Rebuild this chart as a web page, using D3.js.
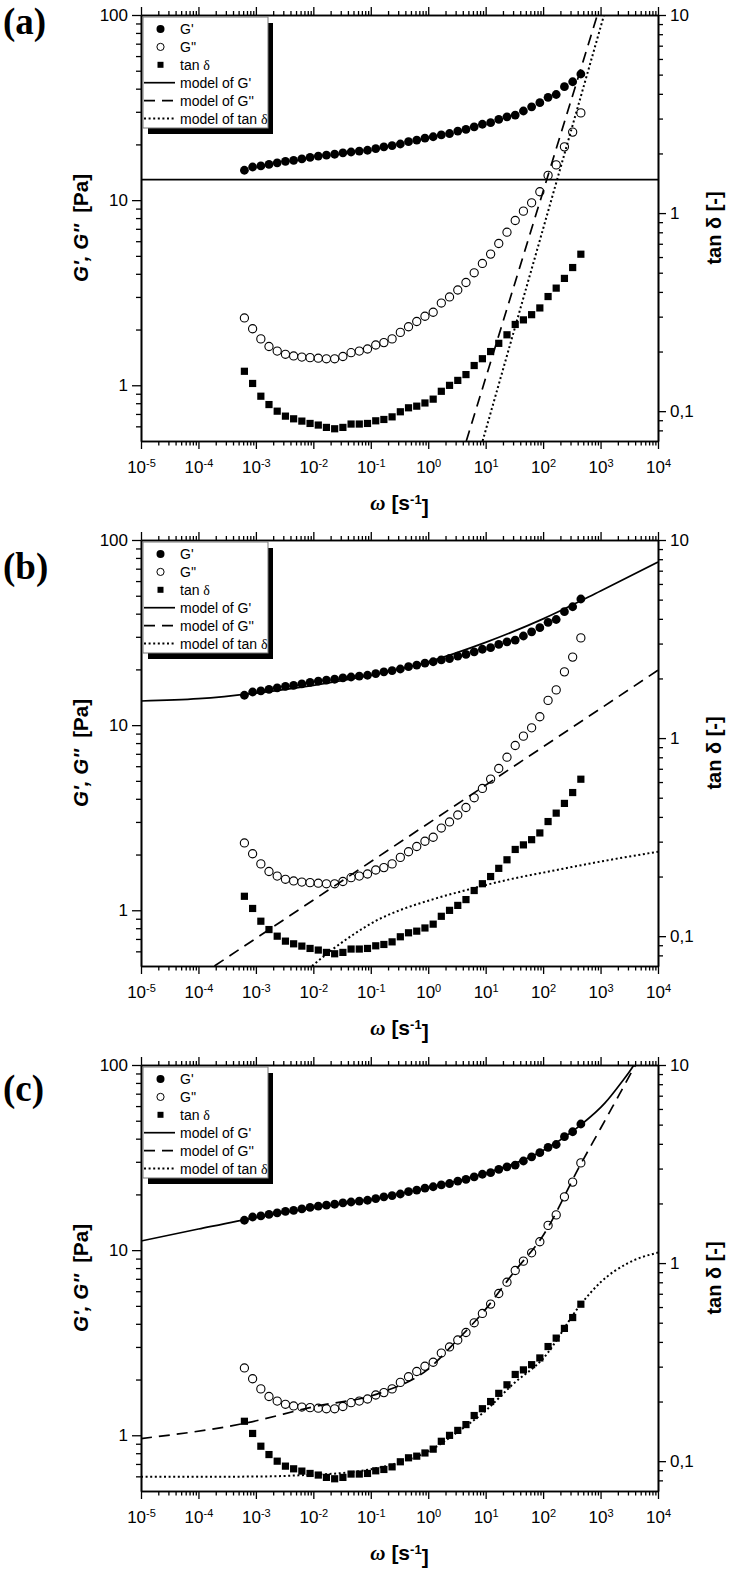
<!DOCTYPE html>
<html lang="en">
<head>
<meta charset="UTF-8">
<title>G', G'' and tan delta with models</title>
<script src="https://d3js.org/d3.v7.min.js"></script>
<style>
    body { margin: 0; background: #fff; }
    svg { display: block; font-family: "Liberation Sans", Arial, sans-serif; }
</style>
</head>
<body>
<svg id="chart" width="733" height="1571"></svg>
<script>
// measured data (same in all three panels)
const omega = [6.31e-4, 8.77e-4, 1.22e-3, 1.69e-3, 2.35e-3, 3.27e-3, 4.54e-3,
    6.31e-3, 8.77e-3, 0.0122, 0.0169, 0.0235, 0.0327, 0.0454,
    0.0631, 0.0877, 0.122, 0.169, 0.235, 0.327, 0.454,
    0.631, 0.877, 1.22, 1.69, 2.35, 3.27, 4.54,
    6.31, 8.77, 12.2, 16.9, 23.5, 32.7, 45.4,
    63.1, 87.7, 122, 169, 235, 327, 454];
const gStorage = [14.5, 15.1, 15.3, 15.6, 15.9, 16.2, 16.4, 16.7, 17.0, 17.3, 17.5, 17.7, 18.0, 18.2,
    18.4, 18.6, 19.0, 19.4, 19.7, 20.1, 20.7, 21.1, 21.6, 22.0, 22.5, 22.9, 23.6, 24.1,
    24.9, 25.7, 26.2, 27.3, 28.2, 28.8, 30.3, 31.9, 33.6, 35.9, 37.2, 41.0, 43.6, 48.0];
const gLoss = [2.31, 2.02, 1.78, 1.62, 1.53, 1.47, 1.44, 1.42, 1.41, 1.40, 1.39, 1.39, 1.43, 1.50,
    1.53, 1.57, 1.65, 1.70, 1.78, 1.93, 2.07, 2.21, 2.36, 2.48, 2.78, 3.00, 3.27, 3.59,
    4.05, 4.55, 5.11, 5.83, 6.71, 7.76, 8.72, 9.67, 11.1, 13.6, 15.5, 19.4, 23.3, 29.6];
const tanDelta = [0.159, 0.138, 0.119, 0.108, 0.100, 0.0944, 0.0915, 0.0891, 0.0867, 0.0851,
    0.0828, 0.0815, 0.0828, 0.0861, 0.0861, 0.0867, 0.0894, 0.0908, 0.0936, 0.0993,
    0.104, 0.106, 0.110, 0.115, 0.126, 0.135, 0.143, 0.153, 0.170, 0.184,
    0.200, 0.220, 0.243, 0.274, 0.289, 0.307, 0.332, 0.379, 0.418, 0.468, 0.531, 0.620];

// model curves, [omega, value]
const modelA_G1 = [[1e-5, 12.9], [1e4, 12.9]];
const modelA_G2 = [[4.6, 0.5], [880, 100]];
const modelA_tan = [[8.85, 0.0707], [1150, 10]];

const modelB_G1 = [[1e-5, 13.5], [1e-4, 13.9], [1e-3, 14.9], [1e-2, 16.4], [0.1, 18.6],
    [1, 22.0], [10, 28.0], [100, 37.5], [1e3, 53], [1e4, 76]];
const modelB_G2 = [[1.9e-4, 0.5], [1e4, 19.8]];
const modelB_tan = [[0.0095, 0.0707], [0.02, 0.0843], [0.05, 0.102], [0.126, 0.120], [0.316, 0.135],
    [1, 0.151], [5, 0.172], [25, 0.193], [126, 0.212], [1000, 0.238], [1e4, 0.267]];

const modelC_G1 = [[1e-5, 11.2], [1e-4, 13.0], [1e-3, 15.0], [1e-2, 16.9], [0.1, 18.8], [1, 21.8],
    [10, 26.0], [100, 34.5], [454, 47.5], [1175, 62], [2200, 79], [3800, 100], [6000, 130]];
const modelC_G2 = [[1e-5, 0.96], [6.3e-4, 1.16], [9.5e-3, 1.42], [0.16, 1.71], [0.95, 2.25], [3, 3.2],
    [10, 4.8], [30, 7.5], [100, 12.0], [454, 29.2], [1000, 45.4], [2000, 67], [4300, 103], [8000, 140]];
const modelC_tan = [[1e-5, 0.0834], [1e-3, 0.0836], [1e-2, 0.0855], [0.03, 0.087], [0.1, 0.091],
    [0.3, 0.098], [1, 0.112], [3, 0.138], [10, 0.18], [30, 0.245], [100, 0.33], [454, 0.62],
    [1000, 0.80], [3000, 1.0], [1e4, 1.13]];

const models = [
    [modelA_G1, modelA_G2, modelA_tan],
    [modelB_G1, modelB_G2, modelB_tan],
    [modelC_G1, modelC_G2, modelC_tan]
];

// ticks and labels
const xTickExps = [-5, -4, -3, -2, -1, 0, 1, 2, 3, 4];
const leftTicks = [1, 10, 100];
const rightTicks = [0.1, 1, 10];
const rightTickLabels = ["0,1", "1", "10"];
const legendLabels = ["G'", "G''", "tan ", "model of G'", "model of G''", "model of tan "];

const panelTops = [15, 540, 1065];
const panelLabels = ["(a)", "(b)", "(c)"];
const panelLabelY = [19, 39, 36];

const svg = d3.select("#chart");
const left = 141, right = 658, plotH = 426;

const x = d3.scaleLog().domain([1e-5, 1e4]).range([left, right]);
const yL = d3.scaleLog().domain([0.5, 100]).range([plotH, 0]);
const yR = d3.scaleLog().domain([0.0707, 10]).range([plotH, 0]);

const xMajor = xTickExps.map(e => Math.pow(10, e));
const xMinor = [];
xTickExps.slice(0, -1).forEach(e => { for (let k = 2; k <= 9; k++) xMinor.push(k * Math.pow(10, e)); });
const leftMinor = [0.6, 0.7, 0.8, 0.9, 2, 3, 4, 5, 6, 7, 8, 9, 20, 30, 40, 50, 60, 70, 80, 90];
const rightMinor = [0.08, 0.09, 0.2, 0.3, 0.4, 0.5, 0.6, 0.7, 0.8, 0.9, 2, 3, 4, 5, 6, 7, 8, 9];

svg.append("defs").append("clipPath").attr("id", "plotClip")
    .append("rect").attr("x", left).attr("y", 0).attr("width", right - left).attr("height", plotH);

// solid, dashed, dotted
const dashes = [null, "11,7", "2,2.6"];

function styleAxis(sel) {
    sel.attr("font-family", null).attr("font-size", 17);
    sel.select(".domain").attr("stroke-width", 1.6);
    sel.selectAll(".tick line").attr("stroke-width", 1.3);
}

function drawPanel(p) {
    const g = svg.append("g").attr("transform", `translate(0,${panelTops[p]})`);

    // markers
    const pts = omega.map((w, i) => ({ w, g1: gStorage[i], g2: gLoss[i], t: tanDelta[i] }));
    g.append("g").selectAll("rect").data(pts).join("rect")
        .attr("x", d => x(d.w) - 3.6).attr("y", d => yR(d.t) - 3.6)
        .attr("width", 7.2).attr("height", 7.2).attr("fill", "#000");
    g.append("g").selectAll("circle").data(pts).join("circle")
        .attr("cx", d => x(d.w)).attr("cy", d => yL(d.g2)).attr("r", 4.1)
        .attr("fill", "#fff").attr("stroke", "#000").attr("stroke-width", 1.1);
    g.append("g").selectAll("circle").data(pts).join("circle")
        .attr("cx", d => x(d.w)).attr("cy", d => yL(d.g1)).attr("r", 4.4)
        .attr("fill", "#000");

    // model lines
    const lineL = d3.line().x(d => x(d[0])).y(d => yL(d[1])).curve(d3.curveMonotoneX);
    const lineR = d3.line().x(d => x(d[0])).y(d => yR(d[1])).curve(d3.curveMonotoneX);
    const lines = g.append("g").attr("clip-path", "url(#plotClip)");
    models[p].forEach((m, k) => {
        lines.append("path").attr("d", k === 2 ? lineR(m) : lineL(m))
            .attr("fill", "none").attr("stroke", "#000")
            .attr("stroke-width", k === 2 ? 2 : 1.7)
            .attr("stroke-dasharray", dashes[k]);
    });

    // bottom axis
    const bottom = g.append("g").attr("transform", `translate(0,${plotH})`);
    bottom.append("g").call(d3.axisBottom(x).tickValues(xMinor).tickSize(4.5).tickSizeOuter(0).tickFormat(""))
        .call(styleAxis);
    bottom.append("g").call(d3.axisBottom(x).tickValues(xMajor).tickSize(8).tickSizeOuter(0).tickPadding(12))
        .call(styleAxis)
        .call(a => a.selectAll(".tick text").text(null).each(function (d, i) {
            const t = d3.select(this);
            t.append("tspan").text("10");
            t.append("tspan").attr("dy", "-0.55em").attr("font-size", 11).text(xTickExps[i]);
        }));
    // top axis
    g.append("g").call(d3.axisTop(x).tickValues(xMinor).tickSize(4).tickSizeOuter(0).tickFormat("")).call(styleAxis);
    g.append("g").call(d3.axisTop(x).tickValues(xMajor).tickSize(8).tickSizeOuter(0).tickFormat("")).call(styleAxis);
    // left axis
    const leftAx = g.append("g").attr("transform", `translate(${left},0)`);
    leftAx.append("g").call(d3.axisLeft(yL).tickValues(leftMinor).tickSize(5).tickSizeOuter(0).tickFormat("")).call(styleAxis);
    leftAx.append("g").call(d3.axisLeft(yL).tickValues(leftTicks).tickSize(9).tickSizeOuter(0).tickPadding(4).tickFormat(d => d))
        .call(styleAxis);
    // right axis
    const rightAx = g.append("g").attr("transform", `translate(${right},0)`);
    rightAx.append("g").call(d3.axisRight(yR).tickValues(rightMinor).tickSize(5).tickSizeOuter(0).tickFormat("")).call(styleAxis);
    rightAx.append("g").call(d3.axisRight(yR).tickValues(rightTicks).tickSize(8).tickSizeOuter(0).tickPadding(4)
        .tickFormat((d, i) => rightTickLabels[i])).call(styleAxis);

    // axis titles
    const lt = g.append("text").attr("transform", `translate(88,213) rotate(-90)`)
        .attr("text-anchor", "middle").attr("font-size", 20.5).attr("font-weight", "bold")
        .attr("xml:space", "preserve");
    lt.append("tspan").attr("font-style", "italic").text("G', G''");
    lt.append("tspan").text("  [Pa]");

    g.append("text").attr("transform", `translate(721,213) rotate(-90)`)
        .attr("text-anchor", "middle").attr("font-size", 20).attr("font-weight", "bold")
        .text("tan δ [-]");

    const bt = g.append("text").attr("x", (left + right) / 2).attr("y", 495)
        .attr("text-anchor", "middle").attr("font-size", 21).attr("font-weight", "bold");
    bt.append("tspan").attr("font-family", "Liberation Serif, serif").attr("font-style", "italic").text("ω");
    bt.append("tspan").text(" [s");
    bt.append("tspan").attr("dy", "-0.5em").attr("font-size", 13).text("-1");
    bt.append("tspan").attr("dy", "0.5em").text("]");

    // panel label
    g.append("text").attr("x", 3).attr("y", panelLabelY[p])
        .attr("font-family", "Liberation Serif, Times New Roman, serif")
        .attr("font-weight", "bold").attr("font-size", 37).text(panelLabels[p]);

    // legend with drop shadow
    const lg = g.append("g");
    lg.append("rect").attr("x", 148).attr("y", 8).attr("width", 125).attr("height", 111).attr("fill", "#000");
    lg.append("rect").attr("x", 143).attr("y", 2).attr("width", 125).attr("height", 111)
        .attr("fill", "#fff").attr("stroke", "#777").attr("stroke-width", 1);
    const rowY = i => 14 + 17.9 * i;
    lg.append("circle").attr("cx", 160.5).attr("cy", rowY(0)).attr("r", 4).attr("fill", "#000");
    lg.append("circle").attr("cx", 160.5).attr("cy", rowY(1)).attr("r", 3.6)
        .attr("fill", "#fff").attr("stroke", "#000").attr("stroke-width", 1);
    lg.append("rect").attr("x", 157.5).attr("y", rowY(2) - 3).attr("width", 6).attr("height", 6).attr("fill", "#000");
    [0, 1, 2].forEach(k => {
        lg.append("line").attr("x1", 144).attr("x2", 175).attr("y1", rowY(3 + k)).attr("y2", rowY(3 + k))
            .attr("stroke", "#000").attr("stroke-width", k === 2 ? 2 : 1.7)
            .attr("stroke-dasharray", dashes[k]);
    });
    legendLabels.forEach((s, i) => {
        const t = lg.append("text").attr("x", 180).attr("y", rowY(i) + 5).attr("font-size", 14);
        t.append("tspan").text(s);
        if (i === 2 || i === 5) t.append("tspan").attr("font-family", "Liberation Serif, serif").text("δ");
    });
}

[0, 1, 2].forEach(drawPanel);
</script>
</body>
</html>
